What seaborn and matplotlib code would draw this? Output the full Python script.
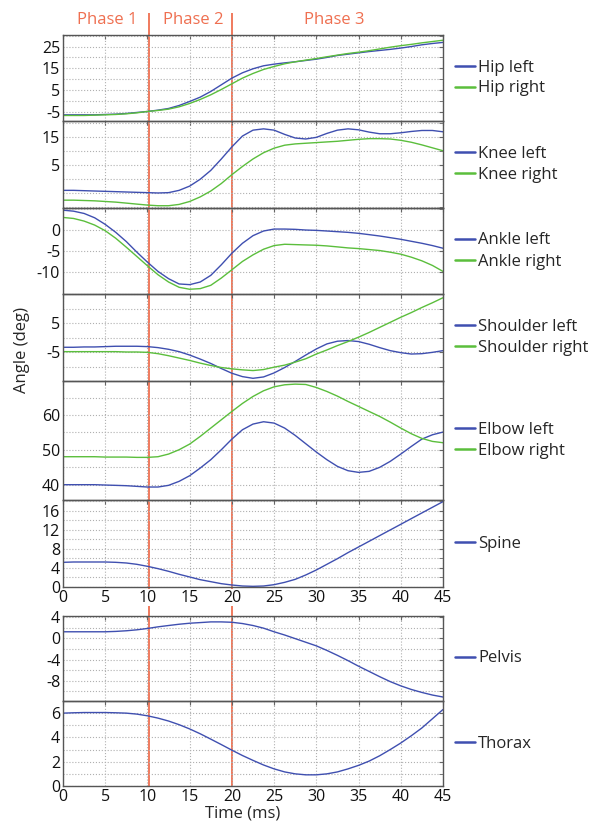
import numpy as np
import pandas as pd
import matplotlib
matplotlib.use("Agg")
import matplotlib.pyplot as plt
from matplotlib.ticker import MultipleLocator
import seaborn as sns

# time axis (ms), values every 1.25 ms
time = [0, 1.25, 2.5, 3.75, 5, 6.25, 7.5, 8.75, 10, 11.25, 12.5, 13.75, 15, 16.25, 17.5, 18.75,
        20, 21.25, 22.5, 23.75, 25, 26.25, 27.5, 28.75, 30, 31.25, 32.5, 33.75, 35, 36.25,
        37.5, 38.75, 40, 41.25, 42.5, 43.75, 45]

hip_left = [-6.36, -6.36, -6.36, -6.36, -6.2, -6.05, -5.74, -5.28, -4.82, -4.21, -3.45, -2.07, -0.23,
            1.76, 4.36, 7.43, 10.49, 12.94, 14.78, 16.16, 16.92, 17.5, 18.0, 18.6, 19.2, 20.0, 20.9,
            21.5, 22.1, 22.7, 23.2, 23.7, 24.3, 25.0, 25.8, 26.4, 26.9]
hip_right = [-6.66, -6.66, -6.66, -6.51, -6.36, -6.2, -5.9, -5.44, -4.82, -4.36, -3.75, -2.68, -1.15,
             0.69, 2.83, 5.28, 7.89, 10.49, 12.63, 14.47, 15.85, 17.08, 18.0, 18.76, 19.5, 20.3, 21.06,
             21.8, 22.4, 23.1, 23.9, 24.7, 25.4, 26.0, 26.7, 27.3, 27.9]

knee_left = [-4.09, -4.09, -4.21, -4.33, -4.44, -4.56, -4.68, -4.8, -4.91, -5.03, -4.91, -4.09, -2.57,
             -0.12, 3.04, 7.13, 11.46, 15.32, 17.43, 17.89, 17.43, 15.91, 14.62, 14.27, 14.85, 16.26,
             17.43, 17.89, 17.55, 16.73, 16.14, 16.14, 16.49, 16.96, 17.31, 17.31, 16.84]
knee_right = [-7.6, -7.6, -7.72, -7.84, -8.07, -8.3, -8.65, -9.01, -9.36, -9.59, -9.59, -9.12, -8.07,
              -6.43, -4.33, -1.64, 1.52, 4.44, 7.13, 9.36, 10.99, 12.05, 12.51, 12.75, 12.98, 13.22,
              13.45, 13.8, 14.15, 14.39, 14.39, 14.27, 13.8, 13.1, 12.16, 11.11, 10.06]

ankle_left = [4.69, 4.45, 3.91, 2.89, 1.33, -0.55, -2.73, -5.23, -7.58, -9.77, -11.48, -12.73, -12.89,
              -12.27, -10.7, -8.2, -5.47, -3.13, -1.33, -0.23, 0.23, 0.23, 0.16, 0, -0.08, -0.23, -0.39,
              -0.55, -0.78, -1.09, -1.41, -1.8, -2.19, -2.66, -3.13, -3.67, -4.3]
ankle_right = [2.97, 2.73, 2.11, 1.17, -0.16, -1.95, -4.06, -6.25, -8.44, -10.55, -12.27, -13.52, -13.98,
               -13.83, -13.05, -11.33, -9.38, -7.42, -5.86, -4.53, -3.67, -3.36, -3.44, -3.52, -3.59,
               -3.75, -3.98, -4.22, -4.38, -4.61, -4.84, -5.23, -5.7, -6.41, -7.27, -8.36, -9.77]

shoulder_left = [-3.37, -3.37, -3.26, -3.26, -3.14, -3.02, -3.02, -3.02, -3.14, -3.49, -4.07, -4.88, -6.05,
                 -7.44, -8.95, -10.7, -12.33, -13.49, -14.07, -13.6, -12.21, -10.35, -8.26, -6.05, -3.95,
                 -2.21, -1.28, -1.05, -1.4, -2.33, -3.49, -4.53, -5.23, -5.7, -5.58, -5.12, -4.53]
shoulder_right = [-4.88, -4.88, -4.88, -4.88, -4.88, -4.88, -5.0, -5.0, -5.12, -5.58, -6.28, -7.09, -7.91,
                  -8.84, -9.65, -10.35, -10.81, -11.16, -11.4, -11.05, -10.23, -9.53, -8.49, -7.33, -5.7,
                  -4.3, -2.79, -1.4, 0.12, 1.74, 3.49, 5.23, 6.98, 8.6, 10.35, 11.98, 13.72]

elbow_left = [40, 40, 40, 40, 39.9, 39.81, 39.71, 39.52, 39.33, 39.33, 39.81, 40.96, 42.58, 44.78, 47.18,
              50.05, 53.11, 55.79, 57.42, 58.09, 57.7, 56.27, 54.16, 51.77, 49.38, 47.18, 45.26, 44.02,
              43.54, 43.83, 44.98, 46.7, 48.8, 51.0, 53.11, 54.35, 55.12]
elbow_right = [48.04, 48.04, 48.04, 48.04, 47.94, 47.94, 47.94, 47.85, 47.85, 48.04, 48.8, 50.05, 51.67,
               53.88, 56.27, 58.66, 61.05, 63.35, 65.36, 66.99, 68.13, 68.71, 68.9, 68.8, 67.94, 66.79,
               65.45, 63.92, 62.49, 61.05, 59.62, 57.99, 56.27, 54.64, 53.3, 52.44, 52.06]

spine = [5.19, 5.26, 5.26, 5.26, 5.26, 5.19, 5.05, 4.77, 4.35, 3.86, 3.3, 2.67, 2.11, 1.54, 1.12, 0.7,
         0.42, 0.21, 0.14, 0.21, 0.49, 0.98, 1.61, 2.53, 3.58, 4.77, 5.96, 7.23, 8.42, 9.61, 10.81, 12.0,
         13.19, 14.39, 15.58, 16.77, 17.96]
pelvis = [1.23, 1.23, 1.23, 1.23, 1.23, 1.3, 1.42, 1.6, 1.85, 2.16, 2.41, 2.65, 2.84, 2.96, 3.09, 3.09,
          3.02, 2.78, 2.41, 1.91, 1.23, 0.62, -0.06, -0.74, -1.42, -2.28, -3.21, -4.2, -5.25, -6.23,
          -7.22, -8.15, -8.95, -9.63, -10.19, -10.68, -11.05]
thorax = [6.0, 6.03, 6.05, 6.05, 6.05, 6.03, 6.0, 5.92, 5.78, 5.59, 5.35, 5.05, 4.7, 4.3, 3.86, 3.41,
          2.95, 2.51, 2.11, 1.73, 1.41, 1.16, 1.0, 0.92, 0.92, 1.0, 1.16, 1.41, 1.7, 2.05, 2.49, 3.0,
          3.54, 4.14, 4.78, 5.54, 6.3]

phase_names = ["Phase 1", "Phase 2", "Phase 3"]
phase_centres = [5.2, 15.4, 32.1]
phase_bounds = [10.2, 20]

BLUE = "#3F4FB0"
GREEN = "#5BBE3C"
RED = "#EF6F50"

sns.set_style("white")
plt.rcParams["font.family"] = ["Open Sans", "DejaVu Sans"]
plt.rcParams["axes.unicode_minus"] = False

W, H = 595, 826
fig = plt.figure(figsize=(W / 100, H / 100), dpi=100)

# overlay for the phase lines, sits behind the transparent panels
over = fig.add_axes([63 / W, 1 - 786 / H, 380 / W, (786 - 13) / H], zorder=0)
over.set_xlim(0, 45)
over.set_ylim(0, 1)
over.axis("off")
for b in phase_bounds:
    over.axvline(b, color=RED, lw=1.3)
for name, c in zip(phase_names, phase_centres):
    over.text(c, (786 - 20) / 773, name, color=RED, fontsize=12, ha="center", va="center")

# (top px, bottom px, series, labels, ylim, labelled ticks, grid step, x labels)
panels = [
    (35, 121, [hip_left, hip_right], ["Hip left", "Hip right"], (-9.2, 30.3), [-5, 5, 15, 25], 5, False),
    (121, 208, [knee_left, knee_right], ["Knee left", "Knee right"], (-10.4, 20.7), [5, 15], 5, False),
    (208, 294, [ankle_left, ankle_right], ["Ankle left", "Ankle right"], (-15.1, 5.2), [-10, -5, 0], 5, False),
    (294, 381, [shoulder_left, shoulder_right], ["Shoulder left", "Shoulder right"], (-15, 15), [-5, 5], 5, False),
    (381, 500, [elbow_left, elbow_right], ["Elbow left", "Elbow right"], (35.6, 69.8), [40, 50, 60], 5, False),
    (500, 587, [spine], ["Spine"], (0, 18.3), [0, 4, 8, 12, 16], 2, True),
    (616, 701, [pelvis], ["Pelvis"], (-11.8, 4.2), [-8, -4, 0, 4], 2, False),
    (701, 786, [thorax], ["Thorax"], (0, 7), [0, 2, 4, 6], 1, True),
]

for top, bottom, series, labels, ylim, yt, step, xlab in panels:
    ax = fig.add_axes([63 / W, 1 - bottom / H, 380 / W, (bottom - top) / H], zorder=1)
    ax.patch.set_alpha(0)
    frames = []
    for s, lab in zip(series, labels):
        frames.append(pd.DataFrame({"time": time, "angle": s, "series": lab}))
    df = pd.concat(frames, ignore_index=True)
    sns.lineplot(data=df, x="time", y="angle", hue="series",
                 palette=[BLUE, GREEN][:len(series)], linewidth=1, ax=ax)
    ax.set_xlim(0, 45)
    ax.set_ylim(*ylim)
    ax.set_xticks(range(0, 46, 5))
    ax.set_yticks(yt)
    ax.yaxis.set_minor_locator(MultipleLocator(step))
    ax.grid(which="both", linestyle=":", color="#b0b0b0", linewidth=0.8)
    ax.set_xlabel("")
    ax.set_ylabel("")
    ax.tick_params(which="both", direction="in", length=3, top=True, right=True,
                   labelsize=11.5, labelcolor="#111111", color="#666666", pad=2)
    if not xlab:
        ax.tick_params(labelbottom=False)
    else:
        for t in ax.get_xticklabels():
            t.set_bbox(dict(facecolor="white", edgecolor="none", pad=0.5))
    for sp in ax.spines.values():
        sp.set_color("#555555")
        sp.set_linewidth(1)
    leg = ax.legend(loc="center left", bbox_to_anchor=(1.0, 0.5), frameon=False, borderaxespad=0.3,
                    handlelength=1.2, handletextpad=0.2, labelspacing=0.3, fontsize=12)
    for h in leg.get_lines():
        h.set_linewidth(1.8)

fig.text(22 / W, 1 - 350 / H, "Angle (deg)", rotation=90, ha="center", va="center", fontsize=12)
fig.text(243 / W, 1 - 814 / H, "Time (ms)", ha="center", va="center", fontsize=12)

fig.savefig("out.png", dpi=100)
